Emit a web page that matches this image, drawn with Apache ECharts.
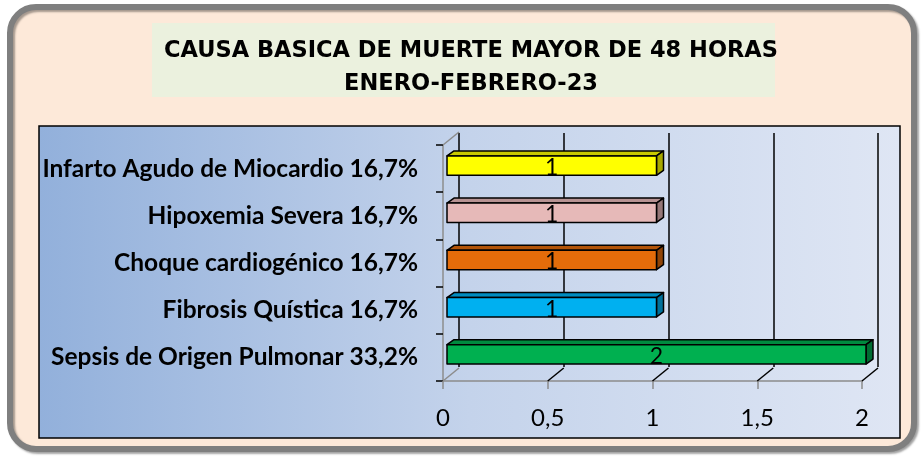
<!DOCTYPE html>
<html>
<head>
<meta charset="utf-8">
<script src="https://cdn.jsdelivr.net/npm/echarts@6/dist/echarts.min.js"></script>
<style>
  html, body { margin: 0; padding: 0; background: #ffffff; }
  #chart { width: 921px; height: 456px; }
</style>
</head>
<body>
<div id="chart"></div>
<script>
// data (top to bottom)
const categories = [
  'Infarto Agudo de Miocardio 16,7%',
  'Hipoxemia Severa 16,7%',
  'Choque cardiogénico 16,7%',
  'Fibrosis Quística 16,7%',
  'Sepsis de Origen Pulmonar 33,2%'
];
const values = [1, 1, 1, 1, 2];
const xTicks = [0, 0.5, 1, 1.5, 2];
const titleLines = ['CAUSA BASICA DE MUERTE MAYOR DE 48 HORAS', 'ENERO-FEBRERO-23'];

// front / top / side colours of each bar
const barColors = [
  ['#ffff00', '#c9c900', '#a8a800'],
  ['#e6b9b8', '#b79393', '#957777'],
  ['#e46c0a', '#b35408', '#914406'],
  ['#00b0f0', '#008cc0', '#00719b'],
  ['#00b050', '#008a3f', '#006d32']
];

const DEPTH_X = 16, DEPTH_Y = -13;

const chart = echarts.init(document.getElementById('chart'));

function renderBar(params, api) {
  const idx = api.value(1);
  const v = api.value(0);
  const p0 = api.coord([0, idx]);
  const p1 = api.coord([v, idx]);
  const band = api.size([0, 1])[1];
  const h = band * 0.41;
  const x0 = p0[0] + 4, x1 = p1[0] + 4;
  const yT = p0[1] - 3 - h / 2, yB = yT + h;
  const dx = 7, dy = -5;
  const c = barColors[params.dataIndex];
  const stroke = { stroke: '#000', lineWidth: 1.5, lineJoin: 'round' };
  return {
    type: 'group',
    children: [
      { type: 'polygon', shape: { points: [[x0, yT], [x1, yT], [x1 + dx, yT + dy], [x0 + dx, yT + dy]] },
        style: Object.assign({ fill: c[1] }, stroke) },
      { type: 'polygon', shape: { points: [[x1, yT], [x1 + dx, yT + dy], [x1 + dx, yB + dy], [x1, yB]] },
        style: Object.assign({ fill: c[2] }, stroke) },
      { type: 'rect', shape: { x: x0, y: yT, width: x1 - x0, height: h },
        style: Object.assign({ fill: c[0] }, stroke) },
      { type: 'text', x: (x0 + x1) / 2, y: (yT + yB) / 2 + 2,
        style: { text: String(v), fill: '#000', font: '23px Lato, "Liberation Sans", sans-serif',
                 align: 'center', verticalAlign: 'middle' } }
    ]
  };
}

function renderFloor(params, api) {
  const v = api.value(0);
  const band = api.size([0, 1])[1];
  const pb = api.coord([v, categories.length - 1]);
  const yb = pb[1] + band / 2;
  const children = [{
    type: 'line',
    shape: { x1: pb[0], y1: yb, x2: pb[0] + DEPTH_X, y2: yb + DEPTH_Y },
    style: { stroke: v === 0 ? '#8c8c8c' : '#000', lineWidth: 1.5 }
  }];
  if (v === 0) {
    const pt = api.coord([0, 0]);
    const yt = pt[1] - band / 2;
    children.push({
      type: 'line',
      shape: { x1: pt[0], y1: yt, x2: pt[0] + DEPTH_X, y2: yt + DEPTH_Y },
      style: { stroke: '#8c8c8c', lineWidth: 1.5 }
    });
  }
  return { type: 'group', children: children };
}

const option = {
  animation: false,
  backgroundColor: '#ffffff',
  graphic: [
    { type: 'rect', z: -10, shape: { x: 10, y: 7, width: 904, height: 442, r: 26 },
      style: { fill: '#fde9d9', stroke: '#7f7f7f', lineWidth: 6,
               shadowColor: 'rgba(0,0,0,0.35)', shadowOffsetX: 2, shadowOffsetY: 2, shadowBlur: 2 } },
    { type: 'rect', z: -9, shape: { x: 152, y: 23, width: 623, height: 74 },
      style: { fill: '#ebf1de' } },
    { type: 'rect', z: -9, shape: { x: 39, y: 126, width: 861, height: 312 },
      style: {
        fill: new echarts.graphic.LinearGradient(0, 0, 1, 0, [
          { offset: 0, color: '#92b0db' },
          { offset: 0.5, color: '#c4d3eb' },
          { offset: 1, color: '#dfe6f4' }
        ]),
        stroke: '#000', lineWidth: 1.5
      } }
  ],
  title: {
    text: titleLines.join('\n'),
    left: 466, top: 30, textAlign: 'center',
    textStyle: { fontFamily: '"DejaVu Sans", sans-serif', fontWeight: 'bold', fontSize: 22.5,
                 lineHeight: 33, color: '#000' }
  },
  grid: [
    { left: 443, right: 59, top: 145, height: 236 },
    { left: 459, right: 43, top: 133, height: 234 }
  ],
  xAxis: [
    {
      gridIndex: 0, type: 'value', min: 0, max: 2, interval: 0.5,
      axisLine: { show: true, lineStyle: { color: '#8c8c8c', width: 1.5 } },
      axisTick: { show: true, length: 8, lineStyle: { color: '#8c8c8c', width: 1.5 } },
      splitLine: { show: false },
      axisLabel: { margin: 25, fontFamily: 'Lato, "Liberation Sans", sans-serif', fontSize: 24, color: '#000',
                   formatter: v => String(v).replace('.', ',') }
    },
    {
      gridIndex: 1, type: 'value', min: 0, max: 2, interval: 0.5,
      axisLine: { show: false }, axisTick: { show: false }, axisLabel: { show: false },
      splitLine: { show: true, lineStyle: { color: '#000', width: 1.5 } }
    }
  ],
  yAxis: [
    {
      gridIndex: 0, type: 'category', data: categories, inverse: true,
      axisLine: { show: true, lineStyle: { color: '#8c8c8c', width: 1.5 } },
      axisTick: { show: true, length: 7, lineStyle: { color: '#000', width: 1.5 } },
      axisLabel: { margin: 25, fontFamily: 'Lato, "Liberation Sans", sans-serif', fontWeight: 'bold',
                   fontSize: 24.5, color: '#000' }
    },
    {
      gridIndex: 1, type: 'category', data: categories, inverse: true, show: false
    }
  ],
  series: [
    {
      type: 'custom', xAxisIndex: 0, yAxisIndex: 0, z: 5,
      renderItem: renderFloor,
      data: xTicks.map(v => [v])
    },
    {
      type: 'custom', xAxisIndex: 0, yAxisIndex: 0, z: 10,
      renderItem: renderBar,
      data: values.map((v, i) => [v, i])
    }
  ]
};

chart.setOption(option);
</script>
</body>
</html>
